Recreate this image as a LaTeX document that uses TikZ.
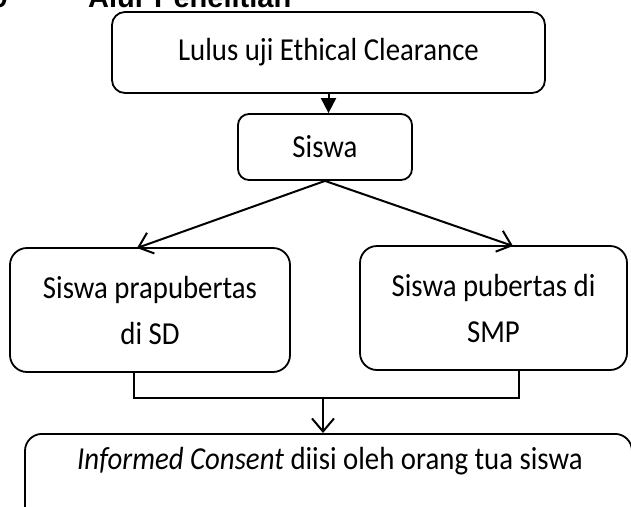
\documentclass[tikz,border=0pt]{standalone}
\usepackage{fontspec}
\setmainfont{Carlito}[FakeStretch=0.9]
\newfontfamily\headfont{Liberation Sans}
\usetikzlibrary{arrows.meta}
\tikzset{
  box/.style={draw=black, line width=1.8pt, rounded corners=13pt, inner sep=0pt, align=center,
    font=\fontsize{32}{46}\selectfont},
  conn/.style={draw=black, line width=2pt},
  barb/.style={conn, -{Straight Barb[length=13pt,width=22pt,line width=2pt]}},
  solidtip/.style={conn, -{Triangle[length=15pt,width=15pt]}},
  txt/.style={inner sep=0pt, font=\fontsize{32}{46}\selectfont},
  head/.style={inner sep=0pt, font=\headfont\bfseries\fontsize{29}{35}\selectfont}
}
\begin{document}
\begin{tikzpicture}[x=1pt,y=-1pt]
\useasboundingbox (0,0) rectangle (631,506);
% heading (clipped at top, as in the reference)
\node[head, anchor=base west] (headtitle) at (88,7) {Alur Penelitian};
\node[head, anchor=base east] (headnum) at (8,7) {9};
% boxes
\node[box, minimum width=433pt, minimum height=81pt] (clear) at (328.5,52.5) {Lulus uji Ethical Clearance};
\node[box, minimum width=174pt, minimum height=66pt, rounded corners=11pt] (siswa) at (325,147) {Siswa};
\node[box, minimum width=280pt, minimum height=124pt, rounded corners=17pt] (sd) at (150,310) {Siswa prapubertas\\di SD};
\node[box, minimum width=267pt, minimum height=124pt, rounded corners=17pt] (smp) at (493.5,308) {Siswa pubertas di\\SMP};
\node[box, minimum width=607pt, minimum height=110pt, rounded corners=17pt, anchor=north] (consent) at (328.5,433) {};
\node[txt] (consenttext) at (330,461) {\textit{Informed Consent} diisi oleh orang tua siswa};
% connectors
\draw[solidtip] (clear.south) -- (clear.south |- siswa.north);
\coordinate (sdtip) at (137,248);
\coordinate (smptip) at (513,246);
\draw[barb] (siswa.south) -- (sdtip);
\draw[barb] (siswa.south) -- (smptip);
\coordinate (sdout) at (134,372);
\coordinate (smpout) at (519,370);
\coordinate (join) at (323,398);
\draw[conn] (sdout) -- (sdout |- join) -- (smpout |- join) -- (smpout);
\draw[barb] (join) -- (join |- consent.north);
\end{tikzpicture}
\end{document}
